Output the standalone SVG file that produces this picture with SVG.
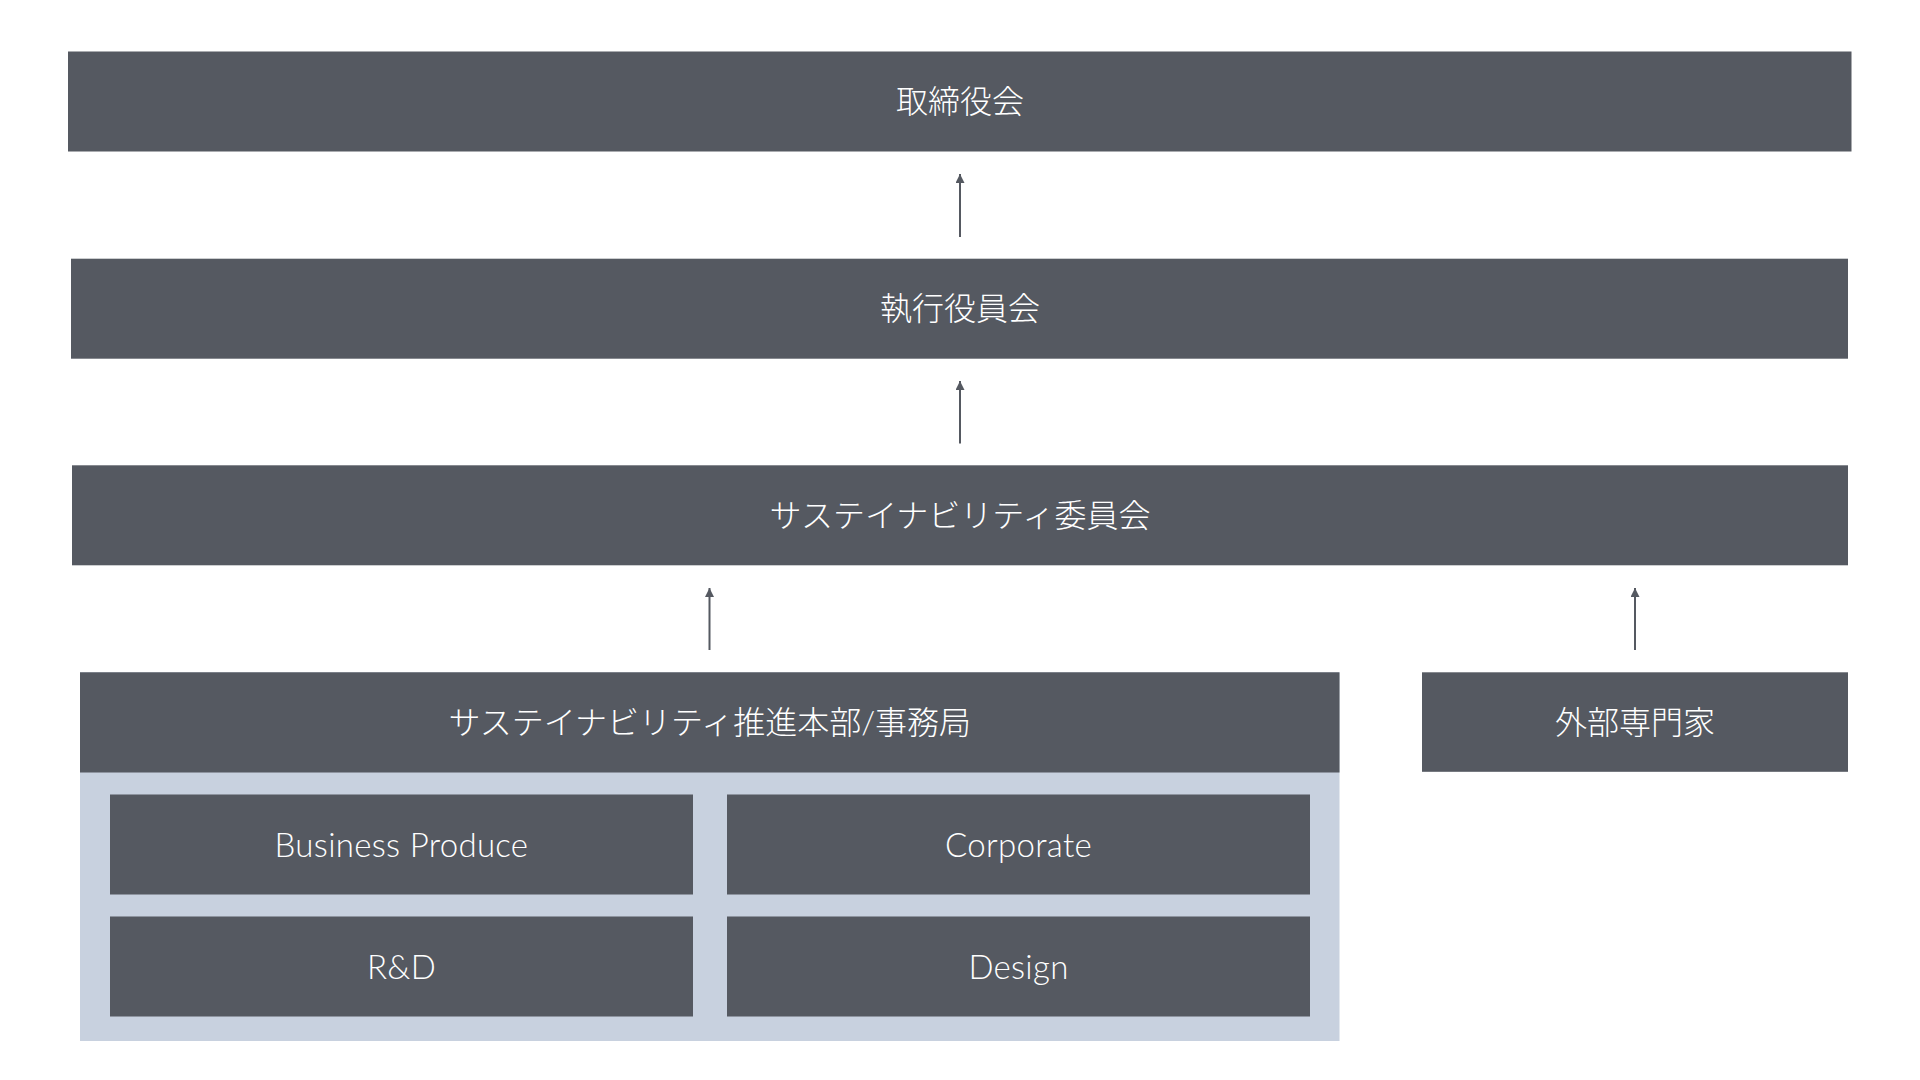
<svg xmlns="http://www.w3.org/2000/svg" width="1920" height="1080" viewBox="0 0 1920 1080">
  <style>
    .box { fill: #555961; }
    .panel { fill: #c8d1df; }
    .label { fill: #ffffff; font-family: "Lato", "Noto Sans CJK JP", sans-serif; font-size: 32px; font-weight: 300; text-anchor: middle; }
    .latin { font-size: 33px; letter-spacing: 0.3px; }
    .conn { stroke: #555961; stroke-width: 2; fill: none; }
  </style>
  <defs>
    <marker id="arrow" markerUnits="userSpaceOnUse" markerWidth="10" markerHeight="10" refX="9" refY="4.5" orient="auto">
      <path d="M0,0 L9,4.5 L0,9 z" fill="#555961"/>
    </marker>
  </defs>
  <rect width="1920" height="1080" fill="#ffffff"/>

  <g id="board">
    <rect class="box" x="68" y="51.5" width="1783.5" height="100"/>
    <text class="label" x="960" y="113">取締役会</text>
  </g>
  <g id="executive">
    <rect class="box" x="71" y="258.7" width="1777" height="100"/>
    <text class="label" x="960" y="320">執行役員会</text>
  </g>
  <g id="committee">
    <rect class="box" x="72" y="465.3" width="1776" height="100"/>
    <text class="label" x="960" y="527">サステイナビリティ委員会</text>
  </g>
  <g id="promotion">
    <rect class="panel" x="80" y="672.3" width="1259.5" height="368.7"/>
    <rect class="box" x="80" y="672.3" width="1259.5" height="100.2"/>
    <text class="label" x="709.75" y="734">サステイナビリティ推進本部/事務局</text>
  </g>
  <g id="business-produce">
    <rect class="box" x="110" y="794.5" width="583" height="100"/>
    <text class="label latin" x="401.5" y="856.5">Business Produce</text>
  </g>
  <g id="corporate">
    <rect class="box" x="727" y="794.5" width="583" height="100"/>
    <text class="label latin" x="1018.5" y="856.5">Corporate</text>
  </g>
  <g id="rnd">
    <rect class="box" x="110" y="916.5" width="583" height="100"/>
    <text class="label latin" x="401.5" y="978.5">R&amp;D</text>
  </g>
  <g id="design">
    <rect class="box" x="727" y="916.5" width="583" height="100"/>
    <text class="label latin" x="1018.5" y="978.5">Design</text>
  </g>
  <g id="external">
    <rect class="box" x="1422" y="672.3" width="426" height="99.5"/>
    <text class="label" x="1635" y="734">外部専門家</text>
  </g>

  <g id="connectors">
    <line class="conn" x1="960" y1="237" x2="960" y2="174" marker-end="url(#arrow)"/>
    <line class="conn" x1="960" y1="443.5" x2="960" y2="381" marker-end="url(#arrow)"/>
    <line class="conn" x1="709.5" y1="650" x2="709.5" y2="588" marker-end="url(#arrow)"/>
    <line class="conn" x1="1635" y1="650" x2="1635" y2="588" marker-end="url(#arrow)"/>
  </g>
</svg>
